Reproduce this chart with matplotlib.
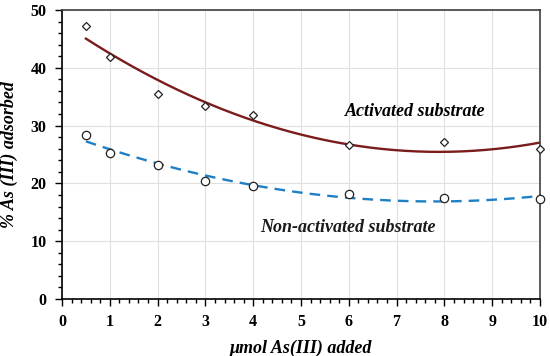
import numpy as np
from matplotlib import pyplot as plt
from matplotlib.ticker import MultipleLocator

# Data
added = [0.5, 1, 2, 3, 4, 6, 8, 10]
activated = [47.2, 41.9, 35.5, 33.4, 31.8, 26.6, 27.2, 26.0]
non_activated = [28.4, 25.3, 23.2, 20.4, 19.6, 18.2, 17.5, 17.3]

plt.rcParams['font.family'] = ['Liberation Serif', 'DejaVu Serif']
plt.rcParams['font.weight'] = 'bold'

fig = plt.figure(figsize=(5.5, 3.56), dpi=100)
ax = fig.add_axes([62/550, 57/356, 478/550, 289/356])

# 2nd order polynomial trendlines
xs = np.linspace(0.5, 10, 200)
fit_a = np.polyval(np.polyfit(added, activated, 2), xs)
fit_n = np.polyval(np.polyfit(added, non_activated, 2), xs)
ax.plot(xs, fit_a, color='#7a1c1c', lw=1.7, zorder=2)
ax.plot(xs, fit_n, color='#1f7fc4', lw=1.7, ls=(0, (4.5, 3)), zorder=2)

ax.plot(added, activated, ls='none', marker='D', ms=4.5, mfc='white',
        mec='#222222', mew=0.9, zorder=3, clip_on=False)
ax.plot(added, non_activated, ls='none', marker='o', ms=6, mfc='white',
        mec='#222222', mew=0.9, zorder=3, clip_on=False)

ax.set_xlim(0, 10)
ax.set_ylim(0, 50)
ax.xaxis.set_major_locator(MultipleLocator(1))
ax.xaxis.set_minor_locator(MultipleLocator(0.2))
ax.yaxis.set_major_locator(MultipleLocator(10))
ax.yaxis.set_minor_locator(MultipleLocator(2))
ax.tick_params(which='major', direction='out', length=5, width=1, labelsize=11.5, pad=6)
ax.tick_params(which='minor', direction='out', length=3, width=1)
ax.tick_params(top=False, right=False)
for lab in ax.get_xticklabels() + ax.get_yticklabels():
    lab.set_fontweight('bold')

ax.grid(True, which='major', color='#e0e0e0', lw=0.8, zorder=0)
ax.set_axisbelow(True)
for s in ['left', 'bottom']:
    ax.spines[s].set_color('black')
    ax.spines[s].set_linewidth(1.2)
for s in ['top', 'right']:
    ax.spines[s].set_color('#404040')
    ax.spines[s].set_linewidth(1.2)

ax.set_xlabel('\u03bcmol As(III) added', fontsize=13, fontweight='bold', style='italic', labelpad=7)
ax.set_ylabel('% As (III) adsorbed', fontsize=13, fontweight='bold', style='italic', labelpad=9)

ax.text(7.38, 32.4, 'Activated substrate', fontsize=13, fontweight='bold', style='italic',
        ha='center', va='center')
ax.text(5.98, 12.3, 'Non-activated substrate', fontsize=13, fontweight='bold', style='italic',
        ha='center', va='center', color='#1a1a1a')

fig.savefig('out.png', dpi=100)
